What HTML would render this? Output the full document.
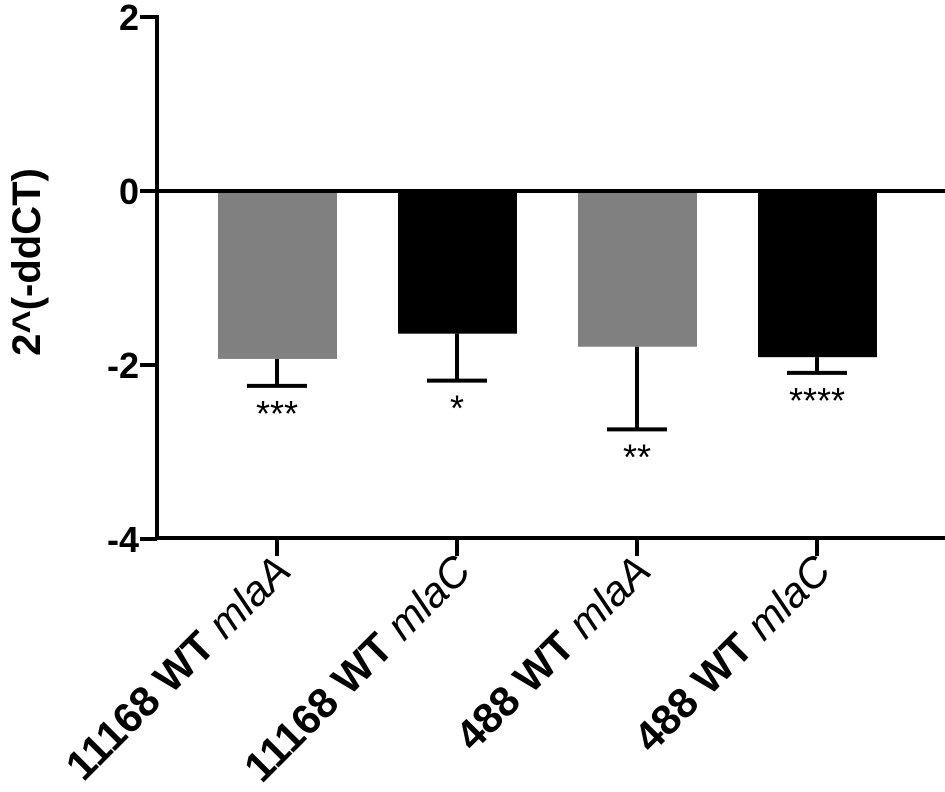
<!DOCTYPE html>
<html><head><meta charset="utf-8"><style>
body{margin:0;background:#fff;}
svg text{font-family:"Liberation Sans",sans-serif;}
</style></head><body>
<svg id="chart" width="945" height="787"></svg>
<script>
const categories=["11168 WT","11168 WT","488 WT","488 WT"];
const genes=["mlaA","mlaC","mlaA","mlaC"];
const values=[-1.93,-1.64,-1.79,-1.91];
const errors=[0.31,0.54,0.95,0.18];
const stars=["***","*","**","****"];
const colors=["#808080","#000000","#808080","#000000"];
const yTicks=[2,0,-2,-4];
const NS="http://www.w3.org/2000/svg";
const svg=document.getElementById('chart');
const y=v=>191-v*87;
const x=i=>277+i*180;
function mk(t,a,p){const e=document.createElementNS(NS,t);for(const k in a)e.setAttribute(k,a[k]);(p||svg).appendChild(e);return e;}
values.forEach((v,i)=>{
 const b=mk('rect',{x:x(i)-59,y:y(0),width:119,height:y(v)-y(0),fill:colors[i]});
 
 
 const g=mk('g',{stroke:'#000','stroke-width':4});
 
 
 mk('line',{x1:x(i),x2:x(i),y1:y(v),y2:y(v-errors[i])},g);
 mk('line',{x1:x(i)-30,x2:x(i)+30,y1:y(v-errors[i]),y2:y(v-errors[i])},g);
 const s=mk('text',{x:x(i),y:y(v-errors[i])+40,'text-anchor':'middle','font-size':36});
 s.textContent=stars[i];
 
 
 const tk=mk('line',{x1:x(i),x2:x(i),y1:538,y2:556,stroke:'#000','stroke-width':4});
 
 
 const t=mk('text',{transform:`translate(${x(i)+16},${573}) rotate(-45)`,'text-anchor':'end','font-size':42,'font-weight':'bold'});
 
 
 t.textContent=categories[i]+' ';
 const ts=mk('tspan',{'font-weight':'normal','font-style':'italic'},t);ts.textContent=genes[i];
});
const zl=mk('line',{x1:155,x2:945,y1:y(0),y2:y(0),stroke:'#000','stroke-width':4});


const ya=mk('line',{x1:157,x2:157,y1:y(2)-2,y2:540,stroke:'#000','stroke-width':4});


const xa=mk('line',{x1:155,x2:945,y1:538,y2:538,stroke:'#000','stroke-width':4});


yTicks.forEach(v=>{
 const l=mk('line',{x1:140,x2:157,y1:y(v),y2:y(v),stroke:'#000','stroke-width':4});
 
 
 const t=mk('text',{x:139,y:y(v)+13,'text-anchor':'end','font-size':36,'font-weight':'bold'});
 t.textContent=v;
 
 
});
const yt=mk('text',{transform:'translate(40,262) rotate(-90)','text-anchor':'middle','font-size':40,'font-weight':'bold'});
yt.textContent='2^(-ddCT)';


</script>
</body></html>
